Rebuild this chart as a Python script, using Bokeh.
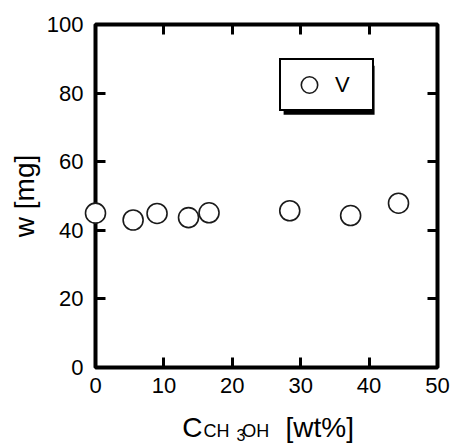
from bokeh.plotting import figure
from bokeh.models import (FixedTicker, LinearAxis, Legend, LegendItem,
                          BoxAnnotation, Range1d)
from bokeh.core.properties import value
from bokeh.embed import file_html
from bokeh.resources import INLINE

# data
x_wt = [0.0, 5.5, 9.0, 13.6, 16.6, 28.4, 37.3, 44.3]
w_mg = [45.0, 43.0, 44.9, 43.7, 45.1, 45.7, 44.3, 47.9]
x_ticks = [0, 10, 20, 30, 40, 50]
y_ticks = [0, 20, 40, 60, 80, 100]
series_name = "V"

FONT = "Liberation Sans"

p = figure(width=453, height=448, output_backend="svg", toolbar_location=None,
           x_range=Range1d(0, 50), y_range=Range1d(0, 100),
           min_border_left=95, min_border_right=16, min_border_top=24,
           min_border_bottom=81, x_axis_location=None, y_axis_location=None)
p.grid.visible = False
p.outline_line_color = "black"
p.outline_line_width = 4
p.background_fill_color = "white"
p.border_fill_color = "white"


def style_axis(ax, ticks, labels=True):
    ax.ticker = FixedTicker(ticks=ticks)
    ax.axis_line_color = None
    ax.major_tick_in = 10
    ax.major_tick_out = 0
    ax.major_tick_line_width = 3
    ax.major_tick_line_color = "black"
    ax.minor_tick_line_color = None
    ax.major_label_text_font = FONT
    ax.major_label_text_font_size = "22px"
    ax.major_label_text_color = "black"
    if not labels:
        ax.major_label_text_alpha = 0
        ax.major_label_text_font_size = "1px"


xb = LinearAxis()
style_axis(xb, x_ticks)
xb.major_label_standoff = 10
p.add_layout(xb, "below")

yl = LinearAxis(axis_label="w [mg]")
style_axis(yl, y_ticks)
yl.major_label_standoff = 12
yl.axis_label_text_font = FONT
yl.axis_label_text_font_size = "28px"
yl.axis_label_text_font_style = "normal"
yl.axis_label_text_color = "black"
yl.axis_label_standoff = 4
p.add_layout(yl, "left")

xt = LinearAxis()
style_axis(xt, x_ticks, labels=False)
p.add_layout(xt, "above")

yr = LinearAxis()
style_axis(yr, y_ticks, labels=False)
p.add_layout(yr, "right")

r = p.scatter(x_wt, w_mg, marker="circle", size=20, fill_color="white",
              line_color="#1a1a1a", line_width=1.6)
r.level = "overlay"

# legend shadow
shadow = BoxAnnotation(left=27.5, right=40.8, top=88.0, bottom=73.7,
                       fill_color="black", fill_alpha=1.0, line_color=None)
p.add_layout(shadow)

leg = Legend(items=[LegendItem(label=series_name, renderers=[r])],
             location=(184, 256), padding=4, margin=0, glyph_width=48,
             glyph_height=41, label_height=41, label_width=33, label_standoff=2,
             label_text_font=FONT, label_text_font_size="22px",
             label_text_color="black", border_line_color="black",
             border_line_width=2, border_line_alpha=1.0,
             background_fill_color="white", background_fill_alpha=1.0)
p.add_layout(leg, "center")

# x-axis label with chemical subscripts (text glyphs drawn above the frame clip)
label_parts = ["C", "CH", "3", "OH", "[wt%]"]
label_x = [12.68, 15.8, 20.6, 21.45, 27.78]
label_y = [-17.5, -18.4, -19.8, -18.4, -17.5]
label_sizes = ["28px", "18px", "16px", "18px", "28px"]
t = p.text(x=label_x, y=label_y, text=label_parts, text_font=value(FONT),
           text_font_size=label_sizes, text_color="black",
           text_baseline="alphabetic", text_align="left")
t.level = "overlay"

open("out.html", "w").write(file_html(p, INLINE))
